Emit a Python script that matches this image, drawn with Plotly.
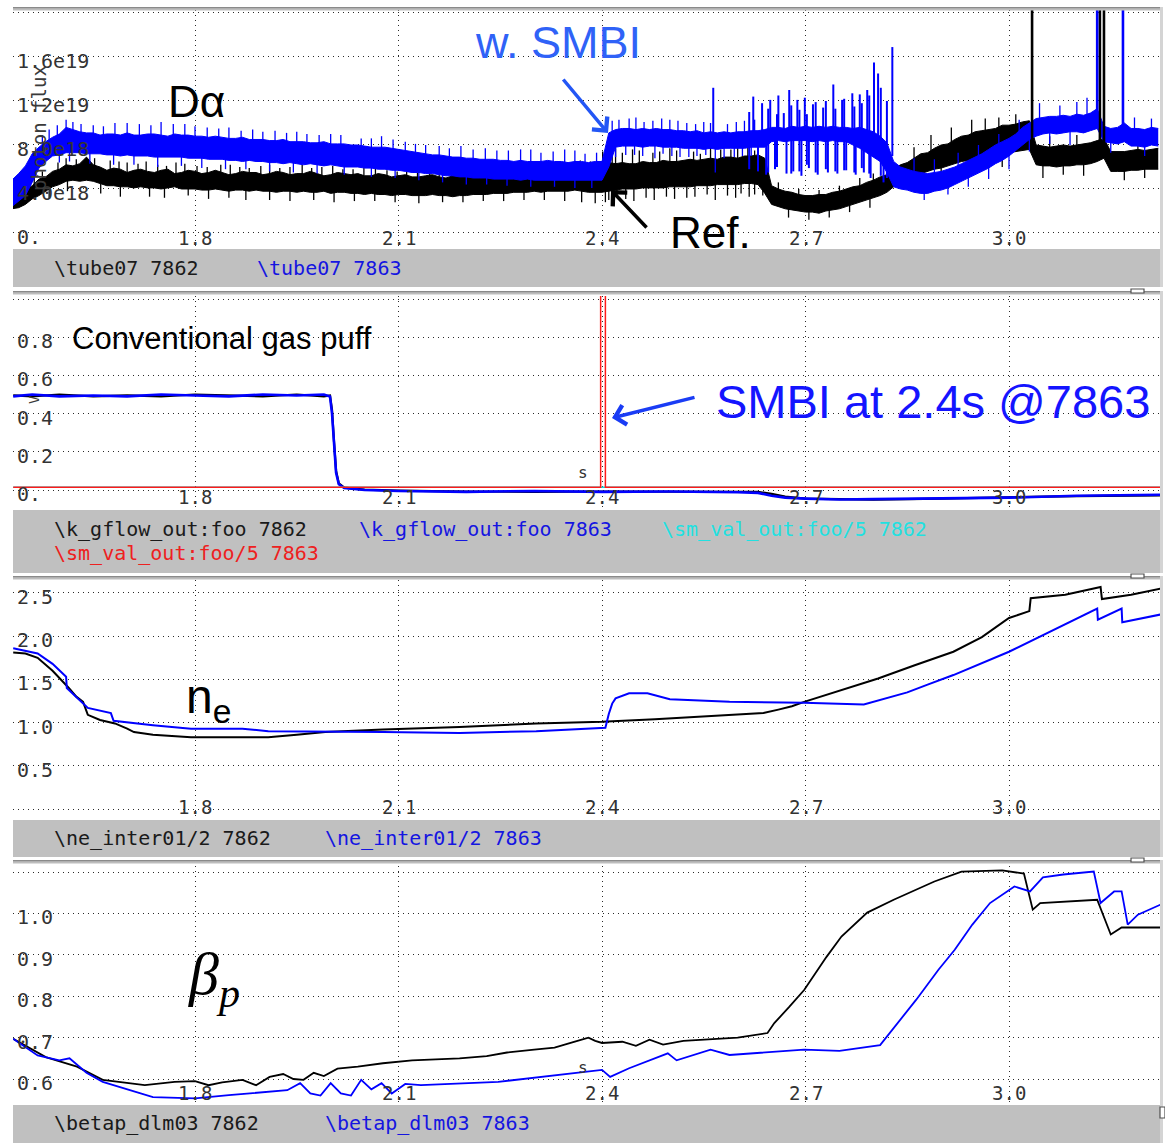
import plotly.graph_objects as go

# ---------------------------------------------------------------- page geometry
W, H = 1165, 1146


def fx(px):
    return px / W


def fy(py):
    return 1 - py / H


T_RANGE = [1.5317, 3.2226]
T_TICKS = [1.8, 2.1, 2.4, 2.7, 3.0]
T_TICK_TEXT = ["1.8", "2.1", "2.4", "2.7", "3.0"]

# ---------------------------------------------------------------- D-alpha (units of 1e18 photons)
da_t = [round(1.53 + 0.01 * i, 2) for i in range(170)]

ref_hi = [3.4, 3.7, 3.9, 4.3, 4.9, 5.1, 5.6, 5.8, 6.2, 6.1,
          6.3, 6.9, 6.2, 6.0, 5.7, 5.9, 5.8, 5.5, 5.7, 5.8,
          5.6, 5.5, 5.7, 5.8, 5.4, 5.5, 5.7, 5.6, 5.4, 5.5,
          5.7, 5.5, 5.3, 5.4, 5.6, 5.5, 5.5, 5.3, 5.4, 5.6,
          5.5, 5.3, 5.4, 5.4, 5.6, 5.4, 5.2, 5.3, 5.5, 5.4,
          5.3, 5.4, 5.2, 5.2, 5.4, 5.3, 5.1, 5.2, 5.3, 5.1,
          5.1, 5.2, 5.3, 5.1, 5.0, 5.2, 5.2, 5.1, 5.3, 5.2,
          5.3, 5.2, 5.4, 5.5, 5.3, 5.4, 5.4, 5.6, 5.5, 5.5,
          5.6, 5.7, 5.5, 5.6, 5.8, 5.7, 5.7, 5.9, 6.4, 6.3,
          6.4, 6.3, 6.3, 6.5, 6.4, 6.4, 6.6, 6.5, 6.5, 6.6,
          6.7, 6.6, 6.7, 6.8, 6.7, 6.9, 6.9, 6.8, 7.0, 7.0,
          7.1, 6.8, 4.3, 4.0, 3.8, 3.7, 3.5, 3.4, 3.4, 3.5,
          3.5, 3.7, 3.8, 4.0, 4.2, 4.3, 4.6, 4.8, 5.1, 5.3,
          5.8, 6.2, 6.4, 6.8, 7.2, 7.3, 7.7, 8.0, 8.1, 8.5,
          8.8, 8.9, 9.2, 9.3, 9.4, 9.5, 9.8, 9.8, 9.9, 10.1,
          10.2, 8.0, 7.9, 7.8, 7.9, 8.0, 7.9, 8.0, 8.1, 8.2,
          8.4, 8.6, 7.4, 7.4, 7.4, 7.5, 7.6, 7.5, 7.6, 7.7]

ref_lo = [2.2, 2.3, 2.6, 3.1, 3.4, 3.8, 4.2, 4.4, 4.7, 4.8,
          4.7, 4.8, 4.7, 4.5, 4.3, 4.3, 4.2, 4.2, 4.1, 4.2,
          4.1, 4.1, 4.0, 4.1, 4.2, 4.0, 4.0, 4.0, 3.9, 3.9,
          4.0, 3.9, 3.8, 3.9, 3.9, 3.8, 3.9, 3.8, 3.8, 3.7,
          3.8, 3.8, 3.7, 3.8, 3.7, 3.7, 3.8, 3.6, 3.7, 3.7,
          3.6, 3.6, 3.5, 3.6, 3.5, 3.5, 3.4, 3.5, 3.5, 3.4,
          3.4, 3.4, 3.5, 3.4, 3.4, 3.3, 3.4, 3.4, 3.5, 3.5,
          3.5, 3.6, 3.6, 3.6, 3.7, 3.7, 3.7, 3.8, 3.7, 3.8,
          3.8, 3.8, 3.8, 3.9, 3.8, 3.7, 3.7, 3.7, 3.8, 3.9,
          4.0, 4.0, 4.0, 4.1, 4.1, 4.1, 4.1, 4.2, 4.2, 4.2,
          4.2, 4.3, 4.3, 4.3, 4.4, 4.4, 4.4, 4.4, 4.5, 4.5,
          4.4, 3.6, 2.6, 2.4, 2.2, 2.1, 2.0, 1.9, 1.9, 1.8,
          2.0, 2.1, 2.2, 2.4, 2.6, 2.8, 3.0, 3.2, 3.4, 3.7,
          4.2, 4.6, 5.0, 5.2, 5.4, 5.6, 5.8, 5.9, 6.1, 6.3,
          6.5, 6.6, 6.8, 6.9, 7.0, 7.1, 7.2, 7.3, 7.4, 7.5,
          7.6, 6.2, 6.1, 6.1, 6.0, 6.1, 6.1, 6.2, 6.2, 6.3,
          6.5, 6.8, 5.6, 5.6, 5.6, 5.7, 5.7, 5.8, 5.8, 5.8]

smbi_hi = [4.8, 5.4, 6.1, 7.2, 7.8, 8.3, 8.7, 9.0, 9.6, 9.4,
           9.2, 9.1, 9.1, 8.9, 9.0, 9.0, 8.9, 9.1, 8.9, 8.9,
           9.0, 9.0, 8.9, 8.8, 9.0, 8.9, 8.9, 8.8, 8.8, 8.7,
           8.8, 8.7, 8.6, 8.6, 8.7, 8.5, 8.5, 8.5, 8.4, 8.4,
           8.5, 8.3, 8.3, 8.3, 8.2, 8.2, 8.3, 8.1, 8.1, 8.1,
           8.0, 8.0, 7.9, 7.8, 7.8, 7.8, 7.7, 7.6, 7.5, 7.4,
           7.3, 7.2, 7.1, 7.1, 7.0, 6.9, 6.9, 6.8, 6.8, 6.7,
           6.7, 6.7, 6.6, 6.6, 6.5, 6.6, 6.5, 6.5, 6.5, 6.6,
           6.5, 6.5, 6.4, 6.5, 6.5, 6.4, 6.5, 6.5, 9.1, 9.4,
           9.5, 9.5, 9.4, 9.5, 9.4, 9.5, 9.4, 9.4, 9.3, 9.3,
           9.2, 9.3, 9.1, 9.2, 9.1, 9.2, 9.1, 9.2, 9.2, 9.3,
           9.3, 9.4, 9.6, 9.6, 9.5, 9.7, 9.6, 9.7, 9.6, 9.7,
           9.6, 9.7, 9.6, 9.6, 9.5, 9.6, 9.4, 9.2, 8.8, 8.2,
           6.5, 6.0, 5.8, 5.6, 5.5, 5.4, 5.5, 5.6, 5.8, 6.0,
           6.3, 6.6, 6.9, 7.2, 7.6, 8.0, 8.3, 8.6, 9.0, 9.6,
           10.0, 10.4, 10.5, 10.6, 10.6, 10.7, 10.6, 10.8, 10.7, 10.9,
           11.3, 9.7, 9.5, 9.6, 10.0, 9.5, 9.5, 9.4, 9.6, 9.5]

smbi_lo = [2.4, 2.9, 3.4, 4.6, 5.9, 6.5, 7.0, 7.1, 7.3, 7.3,
           7.3, 7.2, 7.2, 7.2, 7.1, 7.1, 7.0, 7.1, 7.0, 7.0,
           7.0, 6.9, 6.9, 6.9, 6.9, 6.9, 6.8, 6.8, 6.8, 6.7,
           6.7, 6.7, 6.6, 6.6, 6.5, 6.6, 6.5, 6.5, 6.4, 6.4,
           6.3, 6.4, 6.3, 6.2, 6.3, 6.2, 6.1, 6.2, 6.1, 6.0,
           6.0, 6.0, 5.9, 5.9, 5.8, 5.8, 5.7, 5.7, 5.6, 5.5,
           5.5, 5.4, 5.4, 5.3, 5.2, 5.2, 5.1, 5.1, 5.0, 5.0,
           5.0, 4.9, 4.9, 4.9, 4.9, 4.8, 4.9, 4.8, 4.8, 4.8,
           4.8, 4.8, 4.8, 4.8, 4.8, 4.8, 4.8, 4.8, 6.0, 7.8,
           7.9, 7.9, 7.9, 7.8, 7.9, 7.9, 7.8, 7.8, 7.8, 7.7,
           7.7, 7.7, 7.6, 7.7, 7.6, 7.7, 7.7, 7.7, 7.7, 7.8,
           7.8, 7.8, 8.3, 8.4, 8.3, 8.4, 8.4, 8.4, 8.3, 8.4,
           8.3, 8.4, 8.3, 8.3, 8.0, 7.7, 7.3, 6.9, 6.5, 5.5,
           4.2, 4.0, 3.9, 3.7, 3.6, 3.6, 3.8, 3.9, 4.1, 4.4,
           4.7, 5.0, 5.3, 5.6, 5.9, 6.3, 6.6, 7.0, 7.5, 8.0,
           8.5, 8.8, 9.0, 9.1, 9.0, 9.1, 9.2, 9.2, 9.1, 9.3,
           9.5, 8.3, 8.2, 8.1, 8.3, 7.9, 7.9, 7.8, 8.0, 7.9]

# short excursions beyond the noise band (time, from level, to level)
ref_spk_t = [1.575, 1.598, 1.652, 1.688, 1.716, 1.745, 1.772, 1.803, 1.838, 1.866, 1.897,
             1.925, 1.958, 1.987, 2.018, 2.049, 2.083, 2.112, 2.146, 2.178, 2.207, 2.238,
             2.266, 2.297, 2.327, 2.355, 2.383,
             1.563, 1.61, 1.625, 1.675, 1.70, 1.728, 1.758, 1.785, 1.818, 1.852, 1.88,
             1.91, 1.94, 1.972, 2.003, 2.033, 2.066, 2.098, 2.128, 2.16, 2.193, 2.222,
             2.252, 2.28, 2.312, 2.34, 2.368, 2.394,
             1.585, 1.661, 1.733, 1.79, 1.85, 1.91, 1.975, 2.035, 2.095, 2.165, 2.225,
             2.285, 2.345, 2.39,
             1.612, 1.69, 1.755, 1.82, 1.875, 1.94, 2.005, 2.065, 2.13, 2.195, 2.255,
             2.315, 2.37,
             2.401, 2.415, 2.43, 2.455, 2.485, 2.51, 2.545, 2.56, 2.59, 2.615, 2.63,
             2.42, 2.445, 2.475, 2.50, 2.535, 2.575, 2.60, 2.625,
             2.405, 2.41, 2.435, 2.465, 2.495, 2.525, 2.555, 2.585, 2.605, 2.625,
             2.422, 2.447, 2.477, 2.507, 2.537, 2.567, 2.597, 2.617, 2.637,
             2.66, 2.69, 2.72, 2.75, 2.78, 2.80, 2.675, 2.705, 2.735, 2.765, 2.795,
             2.86, 2.885, 2.915, 2.945, 2.965, 2.985, 3.01, 3.06, 3.10, 3.19,
             2.87, 2.90, 2.95, 2.99, 3.05, 3.08, 3.11, 3.17, 3.20]
ref_spk_from = [4.5, 5.0, 5.0, 5.0, 5.0, 5.0, 5.0, 4.8, 4.8, 4.8, 4.6,
                4.6, 4.6, 4.5, 4.5, 4.4, 4.4, 4.3, 4.3, 4.3, 4.3, 4.4,
                4.5, 4.5, 4.6, 4.6, 4.7,
                4.0, 5.0, 5.0, 5.0, 5.0, 4.8, 4.8, 4.8, 4.7, 4.7, 4.6,
                4.6, 4.5, 4.5, 4.4, 4.4, 4.3, 4.3, 4.2, 4.2, 4.2, 4.3,
                4.4, 4.4, 4.5, 4.5, 4.6, 4.6,
                4.0, 4.5, 4.5, 4.5, 4.4, 4.3, 4.2, 4.2, 4.1, 4.0, 4.1,
                4.2, 4.3, 4.3,
                5.0, 4.5, 4.5, 4.4, 4.3, 4.2, 4.2, 4.1, 4.0, 4.0, 4.1,
                4.2, 4.3,
                5.0, 5.0, 5.0, 5.2, 5.2, 5.3, 5.4, 5.5, 5.5, 5.5, 5.6,
                5.2, 5.3, 5.3, 5.3, 5.4, 5.5, 5.5, 5.6,
                4.5, 4.6, 4.8, 4.8, 5.0, 5.0, 5.0, 5.0, 5.0, 5.0,
                4.6, 4.7, 4.8, 4.9, 5.0, 5.0, 5.0, 5.0, 5.0,
                3.0, 2.6, 2.6, 3.0, 3.5, 3.8, 3.0, 2.6, 2.7, 3.0, 3.5,
                6.0, 7.0, 7.0, 8.0, 8.0, 8.0, 8.5, 7.0, 7.0, 6.5,
                6.0, 6.5, 7.5, 7.5, 7.0, 7.0, 7.0, 6.5, 6.5]
ref_spk_to = [5.6, 6.4, 6.8, 6.5, 6.3, 6.2, 6.4, 6.1, 6.2, 6.0, 6.1,
              5.9, 6.2, 6.0, 5.8, 6.0, 5.7, 5.8, 5.6, 5.9, 5.7, 6.0,
              6.1, 6.2, 6.4, 6.3, 6.5,
              5.0, 6.8, 6.7, 6.6, 6.4, 6.5, 6.1, 6.3, 6.0, 6.2, 5.9,
              6.2, 6.0, 5.9, 6.1, 5.8, 5.9, 5.6, 5.9, 5.7, 5.8, 5.9,
              6.0, 6.2, 6.0, 6.3, 6.6, 6.1,
              3.1, 3.6, 3.3, 3.4, 3.2, 3.0, 3.0, 2.9, 2.8, 2.8, 2.9,
              3.0, 2.9, 2.7,
              3.8, 3.3, 3.2, 3.1, 3.0, 2.9, 2.8, 2.9, 2.7, 2.8, 2.9,
              3.0, 2.8,
              7.4, 7.6, 7.3, 7.5, 7.4, 7.5, 7.2, 7.8, 7.6, 8.0, 7.9,
              7.7, 7.6, 7.3, 7.7, 7.4, 7.6, 7.9, 7.5,
              2.8, 3.0, 3.1, 3.2, 3.3, 3.2, 3.5, 3.4, 3.6, 3.5,
              3.2, 2.9, 3.0, 3.1, 3.3, 3.0, 3.2, 3.3, 3.4,
              4.6, 4.0, 3.9, 4.3, 5.0, 5.4, 1.4, 1.2, 1.4, 1.9, 2.3,
              7.8, 8.9, 9.6, 10.3, 10.4, 10.5, 10.8, 8.8, 8.9, 8.2,
              4.6, 5.0, 5.8, 6.0, 5.0, 5.3, 5.2, 4.8, 5.0]

smbi_spk_t = [1.585, 1.61, 1.632, 1.665, 1.70, 1.735, 1.768, 1.80, 1.835, 1.868, 1.90, 1.935,
              1.965, 2.0, 2.045, 2.075, 2.11, 2.14, 2.175, 2.21, 2.245, 2.28, 2.31, 2.345,
              2.375,
              1.575, 1.597, 1.62, 1.65, 1.682, 1.718, 1.75, 1.785, 1.818, 1.85, 1.885, 1.918,
              1.95, 1.983, 2.015, 2.06, 2.092, 2.125, 2.16, 2.192, 2.228, 2.262, 2.295, 2.328,
              2.36, 2.392,
              1.60, 1.645, 1.71, 1.78, 1.845, 1.91, 1.98, 2.06, 2.13, 2.20, 2.26, 2.33, 2.385,
              1.615, 1.68, 1.745, 1.81, 1.875, 1.945, 2.02, 2.095, 2.165, 2.23, 2.295, 2.36,
              2.425, 2.45, 2.475, 2.50, 2.525, 2.55, 2.585, 2.61,
              2.415, 2.44, 2.462, 2.488, 2.512, 2.538, 2.56, 2.598, 2.625,
              2.435, 2.46, 2.49, 2.515, 2.54, 2.567, 2.595, 2.62,
              2.42, 2.448, 2.478, 2.503, 2.528, 2.553, 2.58, 2.607,
              2.86, 2.89, 2.925, 2.955, 2.985, 3.015, 3.045, 3.075, 3.10, 3.115, 3.185, 3.21,
              2.875, 2.91, 2.94, 2.97, 3.0, 3.03, 3.06, 3.09, 3.15, 3.20]
smbi_spk_from = [7.0, 8.0, 8.0, 8.0, 8.0, 8.0, 8.0, 8.0, 7.5, 7.5, 7.5, 7.2,
                 7.2, 7.0, 7.0, 6.8, 6.5, 6.3, 6.0, 6.0, 5.8, 5.8, 5.8, 5.8,
                 5.8,
                 6.5, 7.5, 8.0, 8.0, 8.0, 8.0, 8.0, 7.9, 7.8, 7.6, 7.5, 7.3,
                 7.2, 7.1, 7.0, 6.9, 6.7, 6.4, 6.2, 6.0, 5.9, 5.8, 5.8, 5.8,
                 5.8, 5.8,
                 8.0, 8.0, 8.0, 7.8, 7.5, 7.3, 7.0, 6.8, 6.5, 6.0, 5.7, 5.6, 5.6,
                 8.0, 8.0, 7.9, 7.6, 7.4, 7.1, 6.9, 6.6, 6.2, 5.8, 5.6, 5.6,
                 8.5, 8.5, 8.5, 8.5, 8.5, 8.3, 8.3, 8.3,
                 8.6, 8.6, 8.6, 8.6, 8.5, 8.4, 8.4, 8.4, 8.5,
                 8.5, 8.5, 8.5, 8.3, 8.3, 8.0, 8.3, 8.3,
                 8.5, 8.5, 8.5, 8.4, 8.3, 8.3, 8.3, 8.3,
                 4.5, 4.5, 5.5, 6.0, 7.0, 8.0, 9.5, 9.8, 9.8, 9.8, 8.5, 8.5,
                 4.5, 5.0, 5.5, 6.5, 7.5, 9.0, 9.5, 9.5, 8.8, 8.5]
smbi_spk_to = [9.4, 10.3, 9.9, 9.7, 10.0, 9.8, 9.9, 9.7, 9.5, 9.3, 9.2, 9.1,
               9.0, 9.0, 8.6, 8.8, 8.3, 8.0, 7.7, 7.6, 7.5, 7.6, 7.3, 7.6,
               7.2,
               8.9, 9.8, 10.1, 9.8, 10.0, 9.9, 10.1, 9.9, 9.6, 9.6, 9.4, 9.3,
               9.2, 8.9, 8.9, 8.6, 8.5, 8.1, 7.9, 7.9, 7.7, 7.5, 7.6, 7.4,
               7.5, 7.3,
               6.4, 6.3, 6.2, 6.1, 5.8, 5.6, 5.4, 5.1, 4.8, 4.4, 4.3, 4.2, 4.1,
               6.5, 6.2, 6.0, 5.9, 5.8, 5.5, 5.3, 5.0, 4.6, 4.4, 4.2, 4.1,
               10.3, 10.5, 10.2, 10.3, 10.0, 10.1, 9.9, 10.2,
               10.2, 10.4, 10.1, 10.4, 10.2, 9.9, 10.0, 10.1, 10.3,
               7.1, 7.0, 7.2, 6.9, 7.0, 5.5, 6.9, 7.0,
               6.9, 7.1, 6.8, 7.0, 6.9, 7.1, 6.8, 7.0,
               6.8, 6.7, 7.3, 8.0, 9.0, 10.3, 11.8, 11.6, 11.9, 12.3, 10.5, 10.4,
               3.0, 3.5, 4.2, 4.9, 5.8, 7.4, 8.1, 8.0, 7.3, 7.0]

# bursts during the SMBI-fuelled phase, 2.56 s to 2.83 s
burst_t = [2.564, 2.623, 2.636, 2.648, 2.660, 2.668, 2.676, 2.688, 2.699, 2.711, 2.726,
           2.741, 2.754, 2.769, 2.780, 2.791, 2.801, 2.807, 2.828,
           2.630, 2.642, 2.655, 2.672, 2.682, 2.694, 2.705, 2.718, 2.733, 2.747, 2.760,
           2.774, 2.786, 2.796, 2.815,
           2.617, 2.645, 2.658, 2.679, 2.691, 2.702, 2.715, 2.730, 2.744, 2.757, 2.772,
           2.783, 2.794, 2.811, 2.820]
burst_from = [8.5, 8.5, 8.5, 8.5, 8.5, 8.5, 8.5, 8.5, 8.5, 8.5, 8.5,
              8.5, 8.5, 8.5, 8.5, 8.0, 8.0, 7.0, 7.0,
              8.5, 8.5, 8.5, 8.5, 8.5, 8.5, 8.5, 8.5, 8.5, 8.5, 8.5,
              8.5, 8.5, 8.5, 7.5,
              5.8, 5.5, 6.0, 5.4, 5.6, 6.2, 5.5, 5.8, 5.6, 5.7, 5.5,
              5.9, 5.4, 5.2, 5.0]
burst_to = [13.2, 12.4, 11.8, 12.1, 12.5, 10.9, 13.0, 12.1, 12.3, 11.7, 11.4,
            13.5, 12.1, 12.7, 12.6, 13.0, 15.5, 14.5, 16.9,
            5.6, 5.3, 5.8, 5.4, 5.6, 5.2, 5.9, 5.3, 5.5, 5.4, 5.7,
            5.3, 5.5, 5.0, 4.6,
            11.0, 11.3, 10.8, 11.6, 11.2, 10.8, 11.9, 12.0, 11.3, 12.2, 11.5,
            11.8, 12.5, 13.2, 12.0]

# off-scale events
ref_top_t = [3.034, 3.134, 3.140]
ref_top_from = [8.0, 7.5, 7.5]
smbi_top_t = [3.130, 3.168]
smbi_top_from = [9.5, 9.0]
TOP_LEVEL = 30.0

DA_TICKS = [0, 4, 8, 12, 16, 20]
DA_TICK_TEXT = ["0.", "4.0e18", "8.0e18", "1.2e19", "1.6e19"]

# ---------------------------------------------------------------- gas flow (V)
flow_t = [1.532, 1.56, 1.60, 1.65, 1.70, 1.75, 1.80, 1.85, 1.90, 1.95, 1.99, 1.999,
          2.002, 2.005, 2.008, 2.012, 2.02, 2.05, 2.10, 2.20, 2.30, 2.40, 2.50, 2.60,
          2.63, 2.65, 2.67, 2.70, 2.75, 2.80, 2.90, 3.00, 3.10, 3.223]
ref_flow = [0.495, 0.49, 0.50, 0.49, 0.495, 0.49, 0.50, 0.495, 0.49, 0.50, 0.49, 0.495,
            0.42, 0.25, 0.10, 0.035, 0.012, 0.002, -0.003, -0.008, -0.01, -0.008, -0.01, -0.01,
            -0.01, -0.02, -0.035, -0.045, -0.048, -0.05, -0.045, -0.038, -0.032, -0.028]
smbi_flow = [0.49, 0.50, 0.49, 0.495, 0.49, 0.50, 0.495, 0.49, 0.50, 0.495, 0.50, 0.49,
             0.40, 0.22, 0.09, 0.03, 0.01, 0.0, -0.005, -0.01, -0.005, -0.01, -0.008, -0.012,
             -0.015, -0.03, -0.04, -0.045, -0.05, -0.048, -0.045, -0.04, -0.03, -0.025]
valve_ref_t = [1.532, 3.223]
valve_ref = [0.015, 0.015]
valve_smbi_t = [1.532, 2.398, 2.398, 2.405, 2.405, 3.223]
valve_smbi = [0.015, 0.015, 5.0, 5.0, 0.015, 0.015]

FLOW_TICKS = [0, 0.2, 0.4, 0.6, 0.8, 1.0]
FLOW_TICK_TEXT = ["0.", "0.2", "0.4", "0.6", "0.8"]

# ---------------------------------------------------------------- line-averaged density
ne_ref_t = [1.532, 1.55, 1.568, 1.59, 1.614, 1.625, 1.635, 1.642, 1.66, 1.682, 1.70, 1.71,
            1.738, 1.794, 1.85, 1.908, 1.95, 1.992, 2.077, 2.19, 2.303, 2.40, 2.478, 2.588,
            2.638, 2.66, 2.68, 2.698, 2.75, 2.807, 2.86, 2.918, 2.96, 3.0, 3.03, 3.032,
            3.083, 3.135, 3.137, 3.18, 3.223]
ne_ref = [1.81, 1.80, 1.75, 1.60, 1.40, 1.30, 1.24, 1.09, 1.03, 0.99, 0.93, 0.89,
          0.86, 0.83, 0.83, 0.83, 0.86, 0.89, 0.92, 0.95, 0.99, 1.01, 1.04, 1.09,
          1.11, 1.15, 1.19, 1.24, 1.37, 1.51, 1.66, 1.82, 1.99, 2.21, 2.29, 2.44,
          2.48, 2.57, 2.43, 2.48, 2.55]
ne_smbi_t = [1.532, 1.568, 1.59, 1.61, 1.611, 1.642, 1.676, 1.68, 1.738, 1.794, 1.87,
             1.908, 2.077, 2.19, 2.303, 2.40, 2.405, 2.41, 2.415, 2.42, 2.44, 2.467, 2.50,
             2.588, 2.698, 2.786, 2.81, 2.85, 2.88, 2.918, 3.0, 3.13, 3.131, 3.166, 3.167,
             3.223]
ne_smbi = [1.86, 1.80, 1.68, 1.53, 1.40, 1.17, 1.11, 1.02, 0.97, 0.93, 0.93,
           0.90, 0.89, 0.88, 0.90, 0.93, 0.94, 1.10, 1.22, 1.28, 1.34, 1.34, 1.27,
           1.24, 1.23, 1.21, 1.26, 1.35, 1.44, 1.55, 1.82, 2.32, 2.19, 2.32, 2.16,
           2.25]

NE_TICKS = [0, 0.5, 1.0, 1.5, 2.0, 2.5]
NE_TICK_TEXT = ["", "0.5", "1.0", "1.5", "2.0", "2.5"]

# ---------------------------------------------------------------- poloidal beta
bp_ref_t = [1.532, 1.58, 1.626, 1.664, 1.726, 1.77, 1.80, 1.82, 1.84, 1.87, 1.89, 1.91,
            1.93, 1.945, 1.96, 1.975, 1.99, 2.01, 2.04, 2.077, 2.12, 2.16, 2.19, 2.23,
            2.26, 2.30, 2.33, 2.36, 2.38, 2.39, 2.40, 2.43, 2.45, 2.47, 2.49, 2.52,
            2.60, 2.644, 2.654, 2.676, 2.698, 2.731, 2.753, 2.791, 2.83, 2.89, 2.93, 2.99,
            3.022, 3.035, 3.046, 3.13, 3.15, 3.166, 3.223]
bp_ref = [0.697, 0.653, 0.630, 0.598, 0.585, 0.593, 0.595, 0.585, 0.592, 0.598, 0.585, 0.605,
          0.612, 0.600, 0.598, 0.615, 0.607, 0.625, 0.630, 0.638, 0.645, 0.648, 0.650, 0.655,
          0.664, 0.671, 0.676, 0.690, 0.700, 0.692, 0.687, 0.690, 0.680, 0.695, 0.683, 0.692,
          0.700, 0.711, 0.735, 0.774, 0.815, 0.895, 0.944, 1.002, 1.033, 1.077, 1.101, 1.104,
          1.096, 1.009, 1.025, 1.033, 0.949, 0.966, 0.966]
bp_smbi_t = [1.532, 1.568, 1.60, 1.615, 1.64, 1.664, 1.738, 1.80, 1.85, 1.936, 1.955, 1.97,
             1.985, 2.0, 2.015, 2.03, 2.045, 2.06, 2.075, 2.09, 2.11, 2.133, 2.247, 2.359,
             2.40, 2.412, 2.44, 2.497, 2.51, 2.56, 2.588, 2.698, 2.75, 2.81, 2.83, 2.863,
             2.896, 2.92, 2.946, 2.972, 3.008, 3.031, 3.05, 3.08, 3.125, 3.135, 3.155, 3.166,
             3.175, 3.19, 3.223]
bp_smbi = [0.697, 0.657, 0.645, 0.650, 0.615, 0.593, 0.556, 0.553, 0.561, 0.573, 0.590, 0.565,
           0.560, 0.590, 0.565, 0.560, 0.598, 0.575, 0.590, 0.565, 0.588, 0.585, 0.593, 0.614,
           0.622, 0.605, 0.626, 0.662, 0.645, 0.671, 0.658, 0.671, 0.668, 0.682, 0.723, 0.791,
           0.864, 0.912, 0.973, 1.025, 1.065, 1.053, 1.087, 1.094, 1.101, 1.025, 1.053, 1.053,
           0.973, 0.997, 1.021]

BP_TICKS = [0.6, 0.7, 0.8, 0.9, 1.0, 1.1]
BP_TICK_TEXT = ["0.6", "0.7", "0.8", "0.9", "1.0"]

# ---------------------------------------------------------------- colours / fonts
BLACK = "#000000"
BLUE = "#0000ff"
RED = "#ff1a1a"
CYAN = "#00e5e5"
STRIP = "#c0c0c0"
MONO = "DejaVu Sans Mono"
SANS = "Liberation Sans"

panels = [
    dict(top=10, bottom=248, yr=[-1.364, 20.27], ticks=DA_TICKS),
    dict(top=296, bottom=509, yr=[-0.0995, 1.0157], ticks=FLOW_TICKS),
    dict(top=580, bottom=819, yr=[-0.1157, 2.650], ticks=NE_TICKS),
    dict(top=866, bottom=1104, yr=[0.5396, 1.1145], ticks=BP_TICKS),
]
X_LEFT, X_RIGHT = 13, 1160

fig = go.Figure()

grid = dict(showgrid=True, gridcolor="#2a2a2a", gridwidth=1.3, griddash="1.3px,3.7px",
            zeroline=False, showline=False, showticklabels=False, ticks="", fixedrange=True)
layout_axes = {}
for i, p in enumerate(panels, start=1):
    sx = "" if i == 1 else str(i)
    layout_axes["xaxis" + sx] = dict(domain=[fx(X_LEFT), fx(X_RIGHT)], range=T_RANGE,
                                     tickvals=T_TICKS, anchor="y" + sx, **grid)
    layout_axes["yaxis" + sx] = dict(domain=[fy(p["bottom"]), fy(p["top"])], range=p["yr"],
                                     tickvals=p["ticks"], anchor="x" + sx, **grid)


def line(x, y, color, width, ax):
    sx = "" if ax == 1 else str(ax)
    fig.add_trace(go.Scatter(x=x, y=y, mode="lines", line=dict(color=color, width=width),
                             xaxis="x" + sx, yaxis="y" + sx, hoverinfo="skip",
                             showlegend=False))


def band(t, lo, hi, color):
    fig.add_trace(go.Scatter(x=t, y=lo, mode="lines", line=dict(color=color, width=1),
                             xaxis="x", yaxis="y", hoverinfo="skip", showlegend=False))
    fig.add_trace(go.Scatter(x=t, y=hi, mode="lines", line=dict(color=color, width=1),
                             fill="tonexty", fillcolor=color, xaxis="x", yaxis="y",
                             hoverinfo="skip", showlegend=False))


def spikes(ts, a, b, color, width):
    xs, ys = [], []
    for t, y0, y1 in zip(ts, a, b):
        xs += [t, t, None]
        ys += [y0, y1, None]
    line(xs, ys, color, width, 1)


# panel 1: D-alpha
band(da_t, ref_lo, ref_hi, BLACK)
spikes(ref_spk_t, ref_spk_from, ref_spk_to, BLACK, 1.3)
band(da_t, smbi_lo, smbi_hi, BLUE)
spikes(smbi_spk_t, smbi_spk_from, smbi_spk_to, BLUE, 1.3)
spikes(burst_t, burst_from, burst_to, BLUE, 2.0)
spikes(ref_top_t, ref_top_from, [TOP_LEVEL] * len(ref_top_t), BLACK, 2.6)
spikes(smbi_top_t, smbi_top_from, [TOP_LEVEL] * len(smbi_top_t), BLUE, 2.6)

# panel 2: gas flow and SMBI valve
line(flow_t, ref_flow, BLACK, 2.2, 2)
line(flow_t, smbi_flow, BLUE, 2.6, 2)
line(valve_ref_t, valve_ref, CYAN, 1.5, 2)
line(valve_smbi_t, valve_smbi, RED, 1.5, 2)

# panel 3: density
line(ne_ref_t, ne_ref, BLACK, 2, 3)
line(ne_smbi_t, ne_smbi, BLUE, 2, 3)

# panel 4: beta_p
line(bp_ref_t, bp_ref, BLACK, 1.8, 4)
line(bp_smbi_t, bp_smbi, BLUE, 1.8, 4)

# ---------------------------------------------------------------- frame shapes
shapes = []


def rect(x0, y0, x1, y1, fill, lw=0, lc=None):
    shapes.append(dict(type="rect", xref="paper", yref="paper", x0=fx(x0), x1=fx(x1),
                       y0=fy(y1), y1=fy(y0), fillcolor=fill,
                       line=dict(width=lw, color=lc or fill), layer="above"))


strips = [(249, 287), (510, 573), (820, 857), (1105, 1143)]
borders = [7, 291, 576, 860]
for (s0, s1), b in zip(strips, borders):
    rect(X_LEFT, s0, X_RIGHT, s1, STRIP)
    rect(X_LEFT, b, 1163, b + 3.5, "#bdbdbd")
    rect(X_LEFT, b, 1163, b + 1.2, "#8a8a8a")
    rect(X_RIGHT, b, 1163, s1, "#d4d4d4")
for b in borders[1:]:
    rect(1131, b - 2, 1144, b + 2, "#ffffff", 1.2, "#505050")
rect(1160, 1107, 1165, 1118, "#ffffff", 1.2, "#505050")

# ---------------------------------------------------------------- text
ann = []


def text(x, y, s, size, color, family=MONO, xanchor="left", xref="paper", angle=0):
    ann.append(dict(x=x if xref != "paper" else fx(x), y=fy(y), xref=xref, yref="paper",
                    text=s, showarrow=False, xanchor=xanchor, yanchor="middle",
                    textangle=angle, font=dict(family=family, size=size, color=color)))


label_rows = [238, 497, 807, 1093]
for i, row in enumerate(label_rows, start=1):
    sx = "x" if i == 1 else "x" + str(i)
    for v, s in zip(T_TICKS, T_TICK_TEXT):
        text(v, row, s, 19, "#333333", xanchor="center", xref=sx)

# y tick labels, placed just below their gridlines
for p, labels in zip(panels, [DA_TICK_TEXT, FLOW_TICK_TEXT, NE_TICK_TEXT, BP_TICK_TEXT]):
    y0, y1 = p["yr"]
    for v, s in zip(p["ticks"], labels):
        if not s:
            continue
        gy = p["bottom"] - (v - y0) / (y1 - y0) * (p["bottom"] - p["top"])
        text(15, gy + 4, s, 20, "#333333")

text(39, 128, "photon flux", 19, "#3a3a3a", xanchor="center", angle=-90)
text(34, 400, "V", 14, "#3a3a3a", xanchor="center", angle=-90)
text(583, 473, "s", 16, "#333333", xanchor="center")
text(583, 1067, "s", 16, "#333333", xanchor="center")

# legend strips
text(52, 268, r"\tube07 7862", 20, "#1a1a1a")
text(255, 268, r"\tube07 7863", 20, "#1515e0")
text(52, 529, r"\k_gflow_out:foo 7862", 20, "#1a1a1a")
text(357, 529, r"\k_gflow_out:foo 7863", 20, "#1515e0")
text(660, 529, r"\sm_val_out:foo/5 7862", 20, "#22e0e0")
text(52, 553, r"\sm_val_out:foo/5 7863", 20, "#ee2020")
text(52, 838, r"\ne_inter01/2 7862", 20, "#1a1a1a")
text(323, 838, r"\ne_inter01/2 7863", 20, "#1515e0")
text(52, 1123, r"\betap_dlm03 7862", 20, "#1a1a1a")
text(323, 1123, r"\betap_dlm03 7863", 20, "#1515e0")

# panel annotations
text(196, 101, "Dα", 44, "#000000", family=SANS, xanchor="center")
text(558, 43, "w. SMBI", 45, "#2f62f7", family=SANS, xanchor="center")
text(668, 232, "Ref.", 44, "#000000", family=SANS)
text(70, 338, "Conventional gas puff", 31, "#000000", family=SANS)
text(714, 401, "SMBI at 2.4s @7863", 47, "#1414ff", family=SANS)
text(184, 700, "n<sub>e</sub>", 48, "#000000", family=SANS)
text(186, 978, "<i>β<sub>p</sub></i>", 60, "#000000", family="Liberation Serif")


def arrow(tip_x, tip_y, tail_x, tail_y, color):
    ann.append(dict(x=fx(tip_x), y=fy(tip_y), xref="paper", yref="paper", text="",
                    showarrow=True, ax=tail_x - tip_x, ay=tail_y - tip_y,
                    arrowhead=4, arrowsize=1.1, arrowwidth=3.5, arrowcolor=color,
                    standoff=0))


arrow(608, 133, 562, 78, "#2356f5")
arrow(611, 190, 648, 229, "#000000")
arrow(612, 418, 696, 397, "#1a3cf5")

fig.update_layout(width=W, height=H, margin=dict(l=0, r=0, t=0, b=0),
                  paper_bgcolor="white", plot_bgcolor="white", showlegend=False,
                  shapes=shapes, annotations=ann, **layout_axes)

fig.write_html("out.html")
